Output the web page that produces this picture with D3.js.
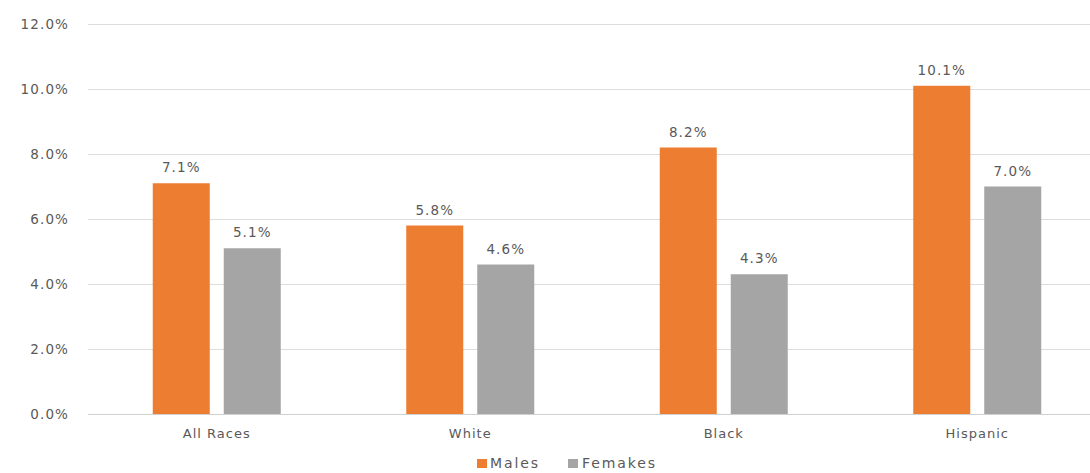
<!DOCTYPE html>
<html>
<head>
<meta charset="utf-8">
<script src="https://cdn.jsdelivr.net/npm/d3@7"></script>
<style>
  html, body { margin: 0; padding: 0; background: #fff; }
  svg text { font-family: "DejaVu Sans", sans-serif; fill: #595959; }
</style>
</head>
<body>
<svg id="chart" width="1090" height="473"></svg>
<script>
// Unemployment rate by race and sex
const categories = ["All Races", "White", "Black", "Hispanic"];
const seriesNames = ["Males", "Femakes"];
const males = [7.1, 5.8, 8.2, 10.1];
const females = [5.1, 4.6, 4.3, 7.0];
const yTicks = [0, 2, 4, 6, 8, 10, 12];
const seriesColors = ["#ED7D31", "#A5A5A5"];

const rows = categories.map((c, i) => ({ category: c, values: [males[i], females[i]] }));

const svg = d3.select("#chart");
const W = 1090, H = 473;
const plot = { left: 90, right: 1104, top: 24, bottom: 414 };

const x = d3.scaleBand().domain(categories).range([plot.left, plot.right]).paddingInner(0).paddingOuter(0);
const groupWidth = 128;
const x1 = d3.scaleBand().domain(seriesNames).range([0, groupWidth]).paddingInner(0.197).paddingOuter(0);
const y = d3.scaleLinear().domain([0, 12]).range([plot.bottom, plot.top]);

// horizontal gridlines
svg.append("g").selectAll("line").data(yTicks).join("line")
  .attr("x1", 88).attr("x2", W)
  .attr("y1", d => Math.round(y(d)) + 0.5).attr("y2", d => Math.round(y(d)) + 0.5)
  .attr("stroke", d => d === 0 ? "#D0D0D0" : "#DDDDDD").attr("stroke-width", 1);

// y-axis labels
svg.append("g").selectAll("text").data(yTicks).join("text")
  .attr("x", 69).attr("y", d => y(d) + 5)
  .attr("text-anchor", "end").attr("font-size", 13.5).attr("letter-spacing", 1.1)
  .text(d => d.toFixed(1) + "%");

// bars
const groups = svg.append("g").selectAll("g").data(rows).join("g")
  .attr("transform", d => `translate(${x(d.category) + (x.bandwidth() - groupWidth) / 2},0)`);

groups.selectAll("rect").data(d => d.values.map((v, i) => ({ v, s: seriesNames[i], i }))).join("rect")
  .attr("x", d => x1(d.s)).attr("width", x1.bandwidth())
  .attr("y", d => y(d.v)).attr("height", d => y(0) - y(d.v))
  .attr("fill", d => seriesColors[d.i]);

// value labels
groups.selectAll("text.val").data(d => d.values.map((v, i) => ({ v, s: seriesNames[i] }))).join("text")
  .attr("class", "val")
  .attr("x", d => x1(d.s) + x1.bandwidth() / 2).attr("y", d => y(d.v) - 11)
  .attr("text-anchor", "middle").attr("font-size", 13.5).attr("letter-spacing", 1.1)
  .attr("fill", "#404040")
  .text(d => d.v.toFixed(1) + "%");

// category labels
svg.append("g").selectAll("text").data(categories).join("text")
  .attr("x", d => x(d) + x.bandwidth() / 2).attr("y", 438)
  .attr("text-anchor", "middle").attr("font-size", 13).attr("letter-spacing", 1)
  .attr("fill", "#404040")
  .text(d => d);

// legend
const legend = svg.append("g");
const legendX = [477, 568];
const legendTextX = [490, 582];
seriesNames.forEach((name, i) => {
  legend.append("rect").attr("x", legendX[i]).attr("y", 459).attr("width", 10).attr("height", 9)
    .attr("fill", seriesColors[i]);
  legend.append("text").attr("x", legendTextX[i]).attr("y", 468)
    .attr("font-size", 14).attr("letter-spacing", 1.9).attr("fill", "#404040")
    .text(name);
});
</script>
</body>
</html>
